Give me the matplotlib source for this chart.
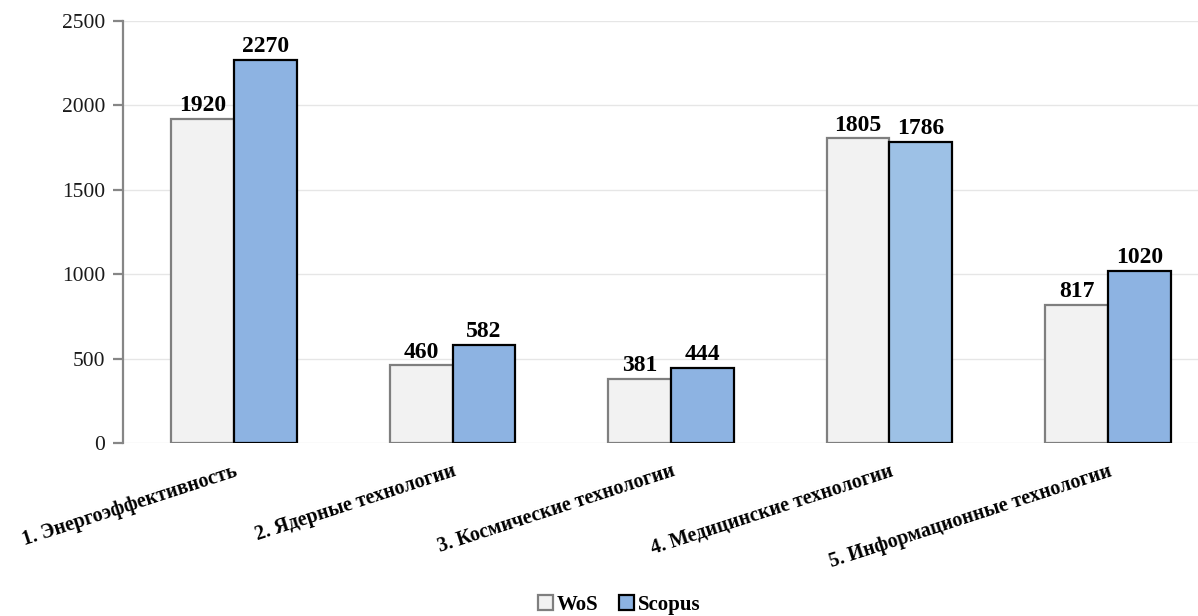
import numpy as np
import matplotlib
matplotlib.use("Agg")
import matplotlib.pyplot as plt

categories = [
    "1. Энергоэффективность",
    "2. Ядерные технологии",
    "3. Космические технологии",
    "4. Медицинские технологии",
    "5. Информационные технологии",
]
wos = [1920, 460, 381, 1805, 817]
scopus = [2270, 582, 444, 1786, 1020]
y_ticks = [0, 500, 1000, 1500, 2000, 2500]

plt.rcParams["font.family"] = ["Liberation Serif", "DejaVu Serif"]

fig = plt.figure(figsize=(11.98, 6.16), dpi=100)
ax = fig.add_axes([0.1027, 0.2808, 0.8973, 0.6851])

x = np.arange(len(categories))
w = 0.288
scopus_colors = ["#8db3e2", "#8db3e2", "#8db3e2", "#9dc1e6", "#8db3e2"]

b1 = ax.bar(x - w / 2, wos, width=w, color="#f2f2f2", edgecolor="#7f7f7f",
            linewidth=1.6, label="WoS", zorder=3)
b2 = ax.bar(x + w / 2, scopus, width=w, color=scopus_colors, edgecolor="black",
            linewidth=1.6, label="Scopus", zorder=3)

for bars in (b1, b2):
    ax.bar_label(bars, padding=2, fontsize=17, fontweight="bold", color="black")

ax.set_ylim(0, 2500)
ax.set_xlim(-0.508, 4.412)
ax.set_yticks(y_ticks)
ax.set_yticklabels([str(t) for t in y_ticks], fontsize=15.5, color="#1a1a1a")
ax.yaxis.grid(True, color="#e6e6e6", linewidth=1, zorder=0)
ax.set_axisbelow(True)

for s in ("top", "right", "bottom"):
    ax.spines[s].set_visible(False)
ax.spines["left"].set_color("#868686")
ax.spines["left"].set_linewidth(1.6)
ax.tick_params(axis="y", length=7, width=1.6, color="#868686", pad=6)

ax.set_xticks(x)
ax.set_xticklabels(categories, rotation=18, ha="right", va="top",
                   rotation_mode="anchor", fontsize=14.5, fontweight="bold")
ax.tick_params(axis="x", length=0, pad=13)

leg = fig.legend(handles=[b1, b2], labels=["WoS", "Scopus"], loc="center",
                 bbox_to_anchor=(0.517, 0.018), ncol=2, frameon=False,
                 prop={"weight": "bold", "size": 15},
                 handlelength=0.7, handleheight=0.7, handletextpad=0.2,
                 columnspacing=1.0)

fig.savefig("out.png", dpi=100)
